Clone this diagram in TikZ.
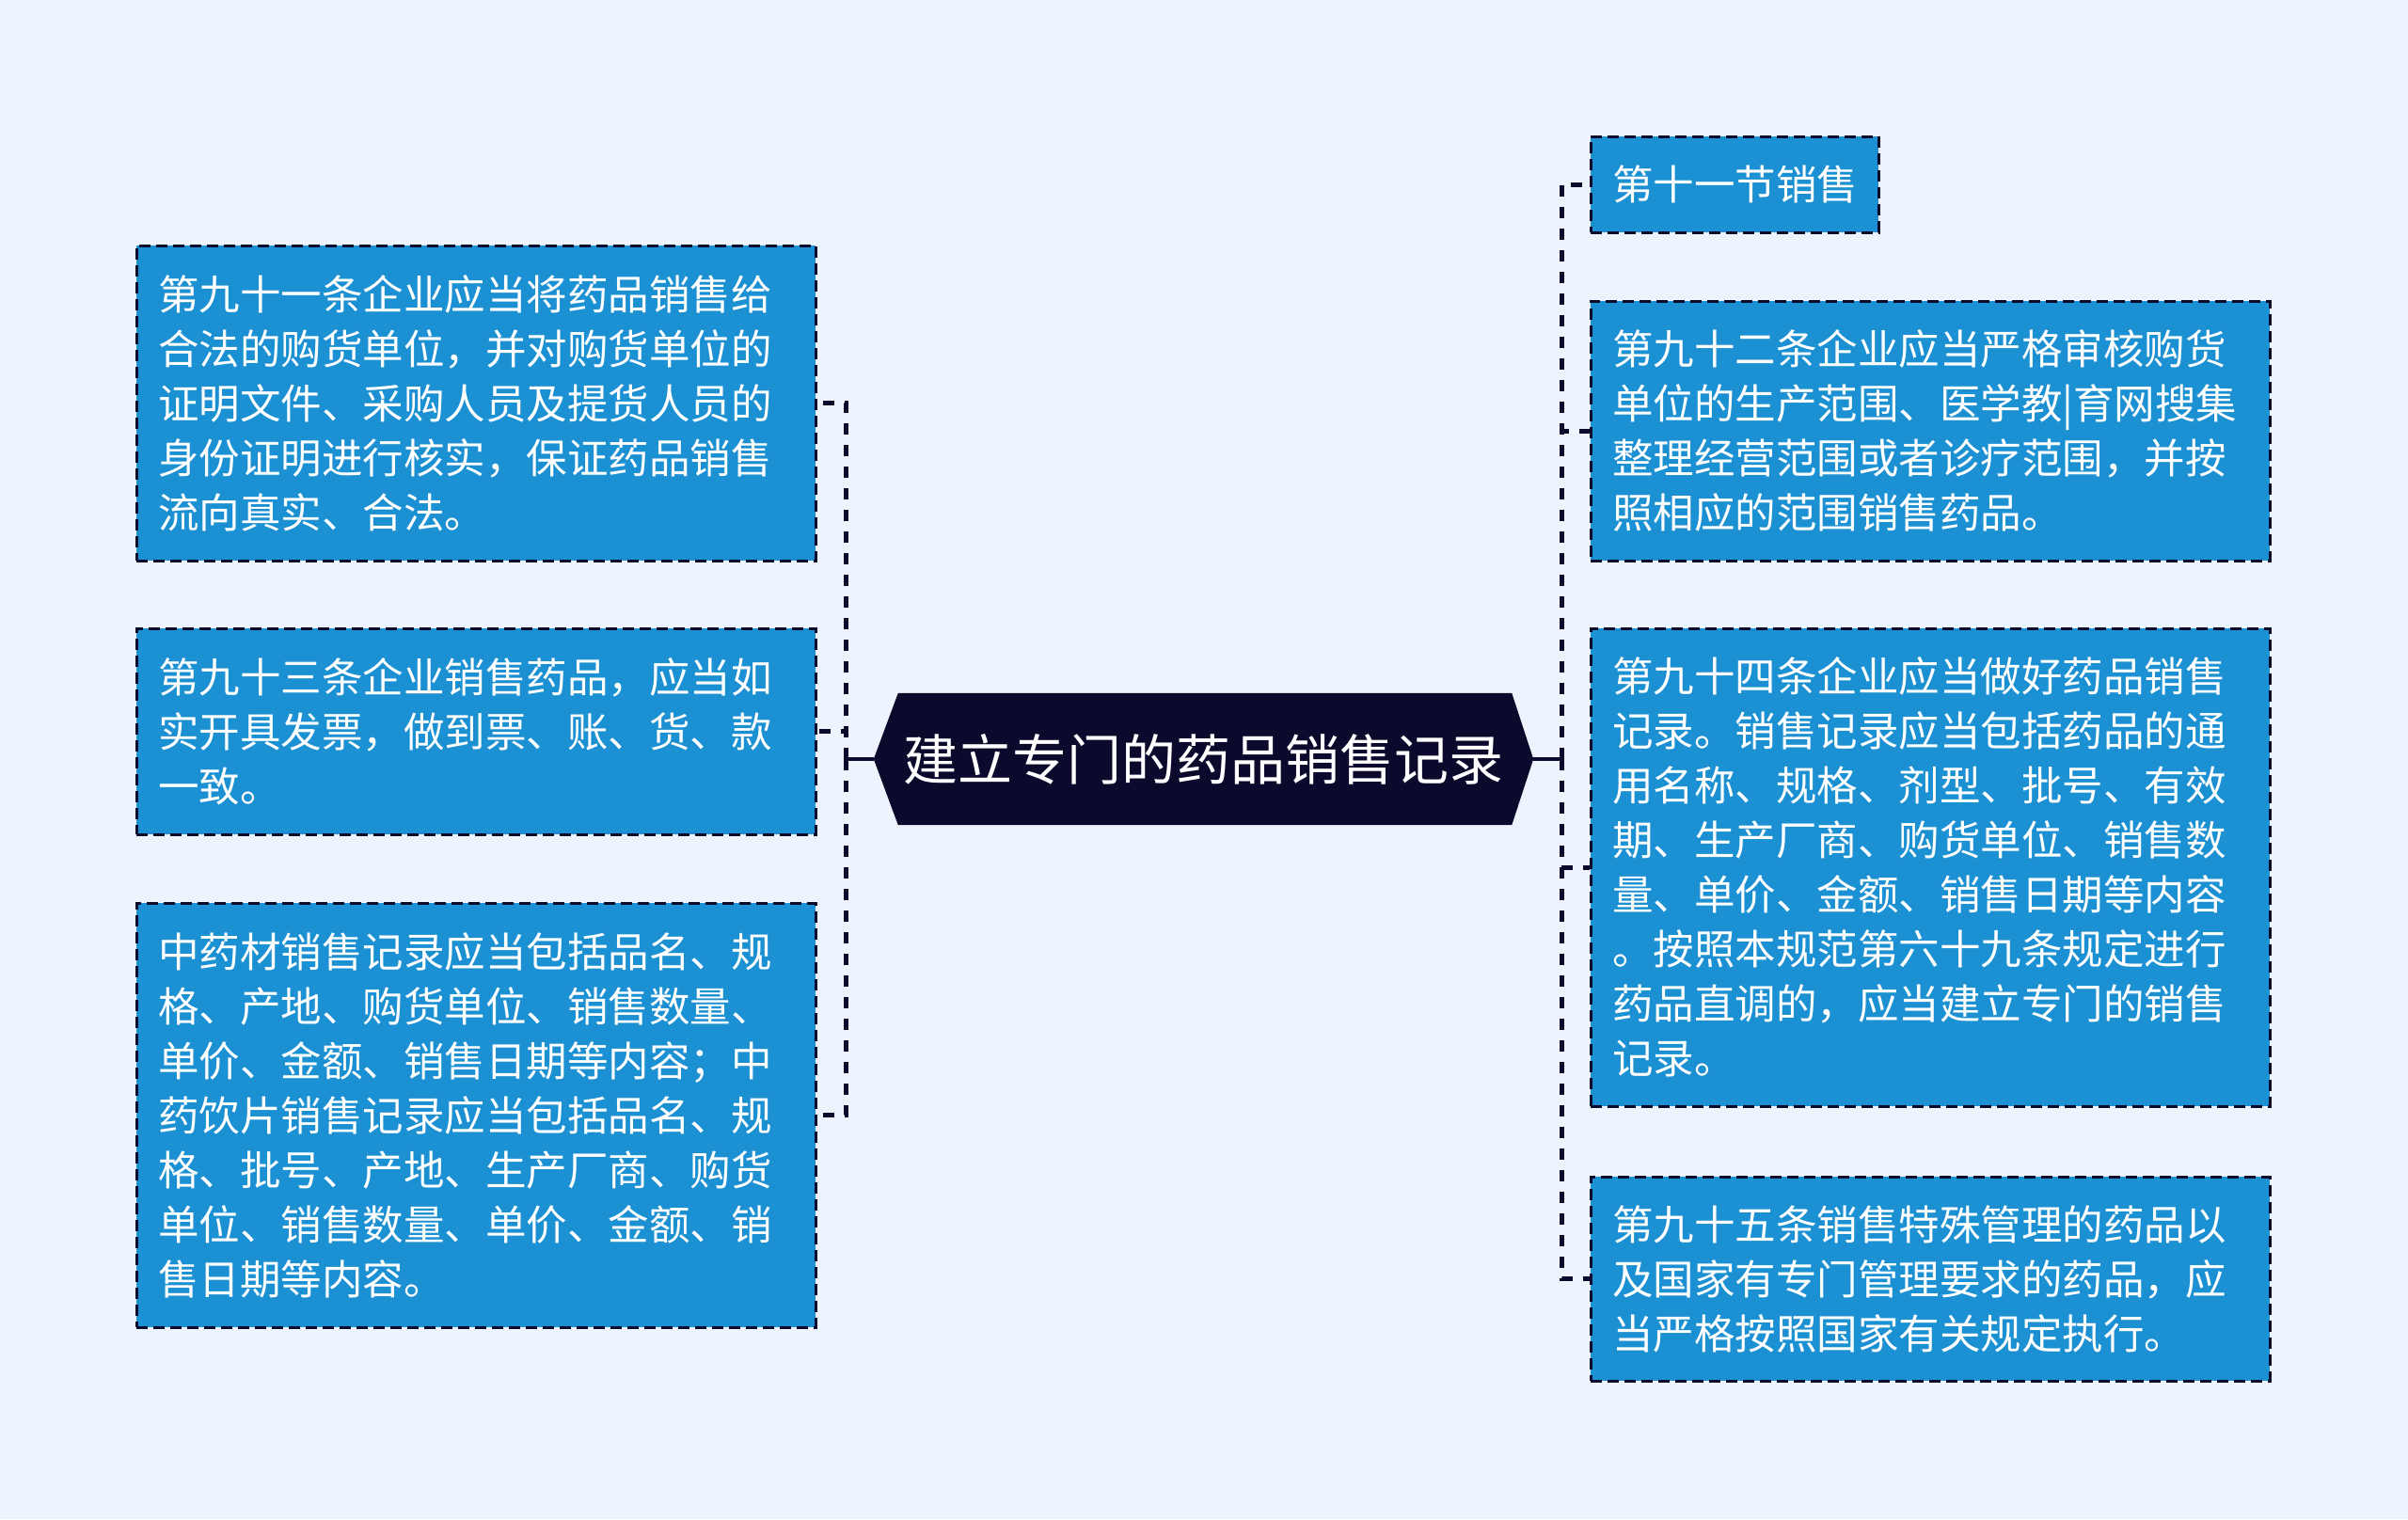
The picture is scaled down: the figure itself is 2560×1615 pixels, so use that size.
\documentclass[tikz,border=0pt]{standalone}
\usepackage{fontspec}
\newfontfamily\cjk{Noto Sans CJK SC}
\definecolor{bgc}{HTML}{EEF4FE}
\definecolor{boxc}{HTML}{1B90D2}
\definecolor{navy}{HTML}{0B0A2D}
\tikzset{
  leaf/.style={draw=navy, line width=3pt, dash pattern=on 12pt off 6pt, fill=boxc,
    text=white, font=\cjk\fontsize{43.5}{58}\selectfont, align=left,
    inner xsep=23pt, inner ysep=0pt, anchor=center},
  conn/.style={draw=navy, line width=5pt, dash pattern=on 12pt off 11pt},
  stub/.style={draw=navy, line width=3.5pt},
}
\begin{document}
\begin{tikzpicture}[x=1pt,y=-1pt]
\fill[bgc] (0,0) rectangle (2560,1615);
\useasboundingbox (0,0) rectangle (2560,1615);

% centre node
\node[minimum width=701pt, minimum height=140pt, inner sep=0pt] (c) at (1279.5,807) {};
\fill[navy] (c.west) -- ([xshift=26pt]c.north west) -- ([xshift=-23pt]c.north east) -- (c.east)
  -- ([xshift=-23pt]c.south east) -- ([xshift=26pt]c.south west) -- cycle;
\node[text=white, font=\cjk\fontsize{58}{70}\selectfont] (ct) at (c.center) {建立专门的药品销售记录};

% left leaves
\node[leaf, text width=676pt, minimum width=722pt, minimum height=335pt] (L1) at (506,428.5)
 {第九十一条企业应当将药品销售给\\合法的购货单位，并对购货单位的\\证明文件、采购人员及提货人员的\\身份证明进行核实，保证药品销售\\流向真实、合法。};
\node[leaf, text width=676pt, minimum width=722pt, minimum height=219pt] (L2) at (506,777.5)
 {第九十三条企业销售药品，应当如\\实开具发票，做到票、账、货、款\\一致。};
\node[leaf, text width=676pt, minimum width=722pt, minimum height=451pt] (L3) at (506,1185.5)
 {中药材销售记录应当包括品名、规\\格、产地、购货单位、销售数量、\\单价、金额、销售日期等内容；中\\药饮片销售记录应当包括品名、规\\格、批号、产地、生产厂商、购货\\单位、销售数量、单价、金额、销\\售日期等内容。};

% right leaves
\node[leaf, text width=260pt, minimum width=306pt, minimum height=102pt] (R1) at (1844,196)
 {第十一节销售};
\node[leaf, text width=676pt, minimum width=722pt, minimum height=276pt] (R2) at (2052,458)
 {第九十二条企业应当严格审核购货\\单位的生产范围、医学教|育网搜集\\整理经营范围或者诊疗范围，并按\\照相应的范围销售药品。};
\node[leaf, text width=676pt, minimum width=722pt, minimum height=508pt] (R3) at (2052,922)
 {第九十四条企业应当做好药品销售\\记录。销售记录应当包括药品的通\\用名称、规格、剂型、批号、有效\\期、生产厂商、购货单位、销售数\\量、单价、金额、销售日期等内容\\。按照本规范第六十九条规定进行\\药品直调的，应当建立专门的销售\\记录。};
\node[leaf, text width=676pt, minimum width=722pt, minimum height=217pt] (R4) at (2052,1359.5)
 {第九十五条销售特殊管理的药品以\\及国家有专门管理要求的药品，应\\当严格按照国家有关规定执行。};

% junctions
\coordinate (jl) at (899,807);
\coordinate (jr) at (1660,807);

\draw[stub] (c.west) -- (jl);
\draw[stub] (c.east) -- (jr);
\draw[conn] (jl) |- (L1.east);
\draw[conn] (jl) |- (L2.east);
\draw[conn] (jl) |- (L3.east);
\draw[conn] (jr) |- (R1.west);
\draw[conn] (jr) |- (R2.west);
\draw[conn] (jr) |- (R3.west);
\draw[conn] (jr) |- (R4.west);
\end{tikzpicture}
\end{document}
